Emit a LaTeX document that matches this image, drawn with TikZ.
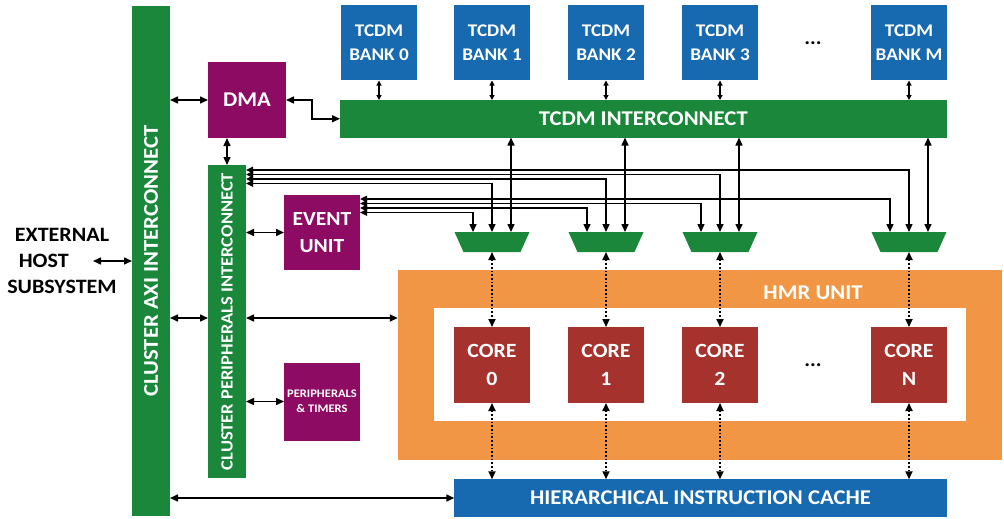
\documentclass[tikz,border=0pt]{standalone}
\usepackage{fontspec}
\setmainfont{Carlito}[FakeStretch=1.08]
\usetikzlibrary{arrows.meta,calc}
\definecolor{cgreen}{HTML}{1A873A}
\definecolor{cblue}{HTML}{1769B0}
\definecolor{cpurple}{HTML}{8E0B63}
\definecolor{cred}{HTML}{A5322D}
\definecolor{corange}{HTML}{F19645}
\begin{document}
\begin{tikzpicture}[x=1pt,y=-1pt,
  blk/.style={inner sep=0pt, outer sep=0pt, align=center, text=white,
    font=\bfseries\fontsize{21}{27}\selectfont},
  gbar/.style={blk, fill=cgreen},
  bankbox/.style={blk, fill=cblue, minimum width=76pt, minimum height=75pt,
    font=\bfseries\fontsize{17.8}{24}\selectfont},
  corebox/.style={blk, fill=cred, minimum width=76pt, minimum height=76pt,
    font=\bfseries\fontsize{20.2}{28}\selectfont},
  pbox/.style={blk, fill=cpurple},
  vlabel/.style={rotate=90, text=white, font=\bfseries\fontsize{21}{21}\selectfont},
  muxbox/.style={inner sep=0pt, outer sep=0pt, minimum width=75pt, minimum height=20pt},
  arr/.style={line width=1.5pt, {Triangle[length=8pt,width=7pt]}-{Triangle[length=8pt,width=7pt]}},
  sarr/.style={line width=1.2pt, {Triangle[length=5pt,width=5pt]}-{Triangle[length=5pt,width=5pt]}},
  farr/.style={line width=1.4pt, {Triangle[length=7pt,width=6.5pt]}-{Triangle[length=8pt,width=7pt]}},
  darr/.style={line width=1.7pt, dotted, {Triangle[length=8pt,width=7pt]}-{Triangle[length=8pt,width=7pt]}},
  dots/.style={font=\bfseries\fontsize{20}{20}\selectfont}
]
\useasboundingbox (0,0) rectangle (1004,519);

% HMR frame
\node[inner sep=0pt, fill=corange, minimum width=604pt, minimum height=190pt] (hmr) at (700,364.5) {};
\node[inner sep=0pt, fill=white, minimum width=532pt, minimum height=113.5pt] (hmrin) at (700,364.25) {};
\node[blk] (hmrlabel) at (813,293) {HMR UNIT};

% Interconnect bars
\node[gbar, minimum width=38pt, minimum height=510pt] (axi) at (151,261) {};
\node[vlabel] (axilabel) at (axi.center) {CLUSTER AXI INTERCONNECT};
\node[gbar, minimum width=38pt, minimum height=313pt] (pi) at (227,321.5) {};
\node[vlabel, font=\bfseries\fontsize{17.1}{17.1}\selectfont] (pilabel) at (pi.center) {CLUSTER PERIPHERALS INTERCONNECT};
\node[gbar, minimum width=606.5pt, minimum height=37.5pt] (tcdm) at (643.25,118.75) {TCDM INTERCONNECT};

% Purple boxes
\node[pbox, minimum width=78pt, minimum height=76pt] (dma) at (247,100) {DMA};
\node[pbox, minimum width=76pt, minimum height=75pt, font=\bfseries\fontsize{20}{27}\selectfont] (ev) at (322,232.5) {EVENT\\UNIT};
\node[pbox, minimum width=76pt, minimum height=78pt, font=\bfseries\fontsize{11.6}{15}\selectfont] (pt) at (322,401.5) {PERIPHERALS\\\& TIMERS};

% External host
\node[align=center, font=\bfseries\fontsize{20.4}{26}\selectfont] (host) at (62,261) {EXTERNAL\\HOST\phantom{XXX}\\SUBSYSTEM};
\coordinate (hostR) at (93,261);

% TCDM banks
\node[bankbox] (b0) at (379,43) {TCDM\\BANK 0};
\node[bankbox] (b1) at (492,43) {TCDM\\BANK 1};
\node[bankbox] (b2) at (606,43) {TCDM\\BANK 2};
\node[bankbox] (b3) at (720,43) {TCDM\\BANK 3};
\node[bankbox] (bM) at (909,43) {TCDM\\BANK M};
\node[dots] (bdots) at (813,43) {...};

% Cores
\node[corebox] (c0) at (492,365) {CORE\\0};
\node[corebox] (c1) at (606,365) {CORE\\1};
\node[corebox] (c2) at (720,365) {CORE\\2};
\node[corebox] (cN) at (909,365) {CORE\\N};
\node[dots] (cdots) at (813,365) {...};

% Instruction cache
\node[blk, fill=cblue, minimum width=492.5pt, minimum height=37.5pt] (cache) at (700.5,498) {HIERARCHICAL INSTRUCTION CACHE};

% Muxes
\foreach \n/\x in {m0/492, m1/606, m2/720, m3/909} {
  \node[muxbox] (\n) at (\x,242) {};
  \fill[cgreen] (\n.north west) -- (\n.north east) -- ([xshift=-9pt]\n.south east) -- ([xshift=9pt]\n.south west) -- cycle;
  \coordinate (\n-L) at ([xshift=-19pt]\n.north);
  \coordinate (\n-M) at (\n.north);
  \coordinate (\n-R) at ([xshift=19pt]\n.north);
}

% Connectors
\draw[arr] (hostR) -- (axi.west |- hostR);
\draw[arr] (axi.east |- dma.west) -- (dma.west);
\draw[arr] (dma.east) -- ++(26,0) |- (tcdm.west);
\draw[arr] (pi.north |- dma.south) -- (pi.north);
\draw[arr] (pi.east |- ev.west) -- (ev.west);
\draw[arr] (pi.east |- pt.west) -- (pt.west);
\coordinate (hy) at (0,318);
\draw[arr] (axi.east |- hy) -- (pi.west |- hy);
\draw[arr] (pi.east |- hy) -- (hmr.west |- hy);
\draw[arr] (axi.east |- cache.west) -- (cache.west);

\foreach \b in {b0,b1,b2,b3,bM} \draw[sarr] (\b.south) -- (\b.south |- tcdm.north);

\foreach \m in {m0,m1,m2,m3} \draw[arr] (tcdm.south -| \m-R) -- (\m-R);

\draw[farr] ([yshift=-5pt]pi.north east) -| (m3-M);
\draw[farr] ([yshift=-9.5pt]pi.north east) -| (m2-M);
\draw[farr] ([yshift=-14pt]pi.north east) -| (m1-M);
\draw[farr] ([yshift=-18.5pt]pi.north east) -| (m0-M);

\draw[farr] ([yshift=-4pt]ev.north east) -| (m3-L);
\draw[farr] ([yshift=-8.5pt]ev.north east) -| (m2-L);
\draw[farr] ([yshift=-13pt]ev.north east) -| (m1-L);
\draw[farr] ([yshift=-17.5pt]ev.north east) -| (m0-L);

\foreach \m/\c in {m0/c0, m1/c1, m2/c2, m3/cN} {
  \draw[darr] (\m.south) -- (\c.north);
  \draw[darr] (\c.south) -- (\c.south |- cache.north);
}
\end{tikzpicture}
\end{document}
